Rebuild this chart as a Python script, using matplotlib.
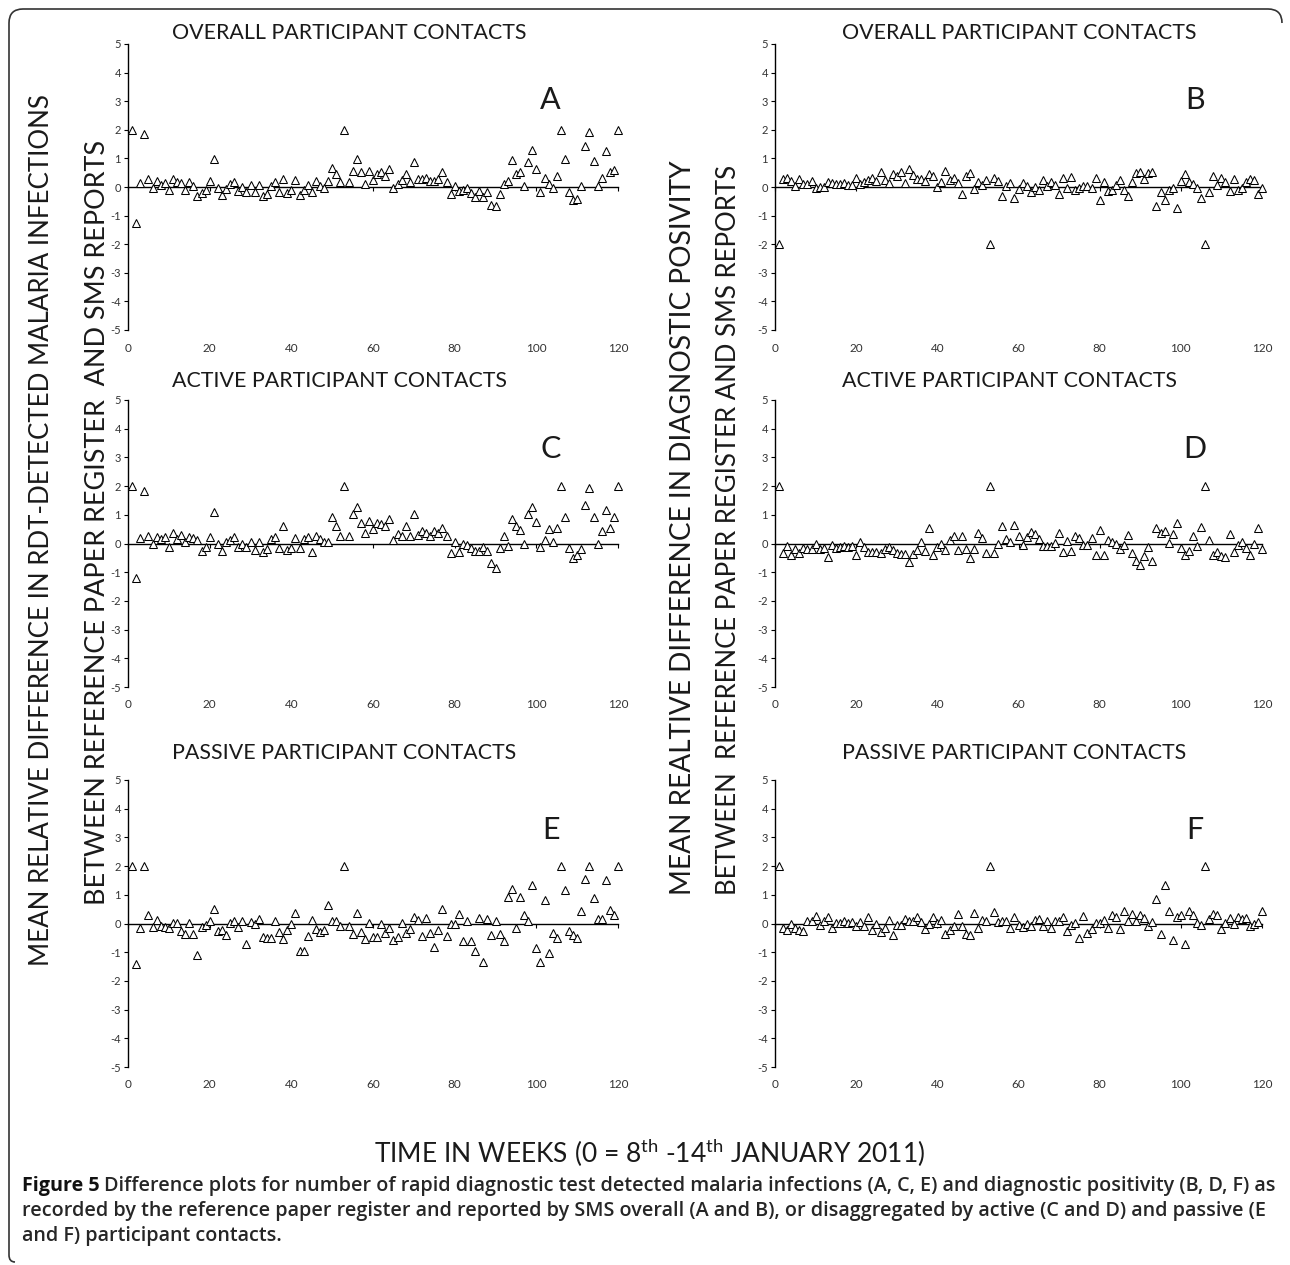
import matplotlib
matplotlib.use("Agg")
import matplotlib.pyplot as plt
from matplotlib.path import Path
from matplotlib.patches import PathPatch

plt.rcParams['font.family'] = ['Lato', 'DejaVu Sans']
plt.rcParams['mathtext.fontset'] = 'custom'
plt.rcParams['mathtext.rm'] = 'Lato'

# ---------------- data ----------------
weeks = list(range(1, 121))

infections_overall = [
    2.0, -1.25, 0.15, 1.87, 0.28, -0.05, 0.2, 0.07, 0.14, -0.12,
    0.28, 0.16, 0.14, -0.1, 0.16, 0.02, -0.3, -0.2, -0.12, 0.2,
    0.98, -0.05, -0.28, -0.07, 0.09, 0.19, -0.14, 0.0, -0.16, 0.07,
    -0.16, 0.07, -0.33, -0.26, 0.05, 0.19, -0.16, 0.28, -0.21, -0.12,
    0.26, -0.28, -0.09, 0.07, -0.16, 0.21, 0.05, -0.05, 0.21, 0.65,
    0.47, 0.19, 2.0, 0.16, 0.56, 0.98, 0.51, 0.09, 0.56, 0.26,
    0.44, 0.54, 0.37, 0.63, -0.05, 0.12, 0.23, 0.47, 0.16, 0.89,
    0.28, 0.28, 0.33, 0.21, 0.21, 0.28, 0.51, 0.16, -0.26, 0.05,
    -0.14, -0.09, -0.05, -0.21, -0.35, -0.14, -0.35, -0.19, -0.63, -0.68,
    -0.26, 0.09, 0.21, 0.94, 0.47, 0.54, 0.02, 0.89, 1.31, 0.63,
    -0.16, 0.3, 0.09, -0.02, 0.37, 2.0, 0.98, -0.16, -0.47, -0.42,
    0.02, 1.43, 1.94, 0.91, 0.02, 0.33, 1.26, 0.51, 0.58, 2.0]

positivity_overall = [
    -2.0, 0.28, 0.33, 0.21, 0.05, 0.28, 0.09, 0.12, 0.21, -0.02,
    0.0, 0.0, 0.19, 0.14, 0.12, 0.12, 0.14, 0.07, 0.07, 0.33,
    0.09, 0.16, 0.26, 0.33, 0.21, 0.54, 0.26, 0.14, 0.44, 0.37,
    0.54, 0.14, 0.63, 0.42, 0.28, 0.28, 0.21, 0.47, 0.40, 0.0,
    0.19, 0.56, 0.23, 0.30, 0.14, -0.26, 0.37, 0.49, -0.07, 0.16,
    0.07, 0.26, -2.0, 0.30, 0.21, -0.30, 0.05, 0.14, -0.37, -0.07,
    0.14, 0.05, -0.16, 0.0, -0.12, 0.23, 0.02, 0.19, 0.07, -0.23,
    0.30, -0.02, 0.35, -0.12, -0.02, 0.02, 0.02, -0.05, 0.30, -0.44,
    0.19, -0.14, -0.09, 0.07, 0.23, -0.09, -0.30, 0.16, 0.49, 0.54,
    0.28, 0.49, 0.54, -0.65, -0.16, -0.44, -0.09, -0.02, -0.75, 0.21,
    0.44, 0.16, 0.09, -0.02, -0.37, -2.0, -0.19, 0.37, 0.07, 0.33,
    0.19, -0.14, 0.28, -0.09, -0.05, 0.16, 0.28, 0.23, -0.26, -0.02]

infections_active = [
    2.0, -1.19, 0.2, 1.82, 0.25, -0.01, 0.22, 0.15, 0.22, -0.11,
    0.36, 0.15, 0.29, 0.04, 0.22, 0.18, 0.11, -0.25, -0.13, 0.22,
    1.09, -0.01, -0.27, 0.04, 0.11, 0.22, -0.13, -0.01, -0.11, 0.06,
    -0.22, 0.06, -0.29, -0.18, 0.15, 0.22, -0.15, 0.62, -0.22, -0.15,
    0.2, -0.15, 0.15, 0.22, -0.29, 0.25, 0.15, 0.04, 0.06, 0.91,
    0.6, 0.27, 2.0, 0.25, 1.02, 1.28, 0.72, 0.36, 0.79, 0.51,
    0.72, 0.69, 0.6, 0.86, 0.13, 0.34, 0.27, 0.62, 0.25, 1.02,
    0.29, 0.44, 0.36, 0.27, 0.44, 0.36, 0.55, 0.25, -0.32, 0.04,
    -0.29, -0.01, -0.06, -0.15, -0.27, -0.25, -0.11, -0.25, -0.67, -0.86,
    -0.15, 0.27, -0.08, 0.86, 0.6, 0.48, -0.01, 1.02, 1.28, 0.74,
    -0.11, 0.11, 0.51, 0.06, 0.55, 2.0, 0.91, -0.15, -0.51, -0.41,
    -0.18, 1.35, 1.94, 0.93, -0.01, 0.44, 1.16, 0.55, 0.91, 2.0]

positivity_active = [
    2.0, -0.34, -0.08, -0.39, -0.2, -0.34, -0.15, -0.18, -0.18, -0.01,
    -0.18, -0.15, -0.46, -0.06, -0.15, -0.13, -0.08, -0.11, -0.08, -0.41,
    0.06, -0.13, -0.29, -0.29, -0.29, -0.32, -0.2, -0.13, -0.22, -0.32,
    -0.36, -0.36, -0.65, -0.36, -0.22, 0.04, -0.25, 0.53, -0.41, -0.11,
    -0.01, -0.22, 0.11, 0.27, -0.22, 0.27, -0.2, -0.51, -0.18, 0.36,
    0.2, -0.32, 2.0, -0.34, -0.01, 0.6, 0.15, 0.04, 0.65, 0.27,
    -0.04, 0.22, 0.39, 0.34, 0.15, -0.08, -0.08, -0.08, 0.01, 0.36,
    -0.29, 0.08, -0.25, 0.27, 0.18, -0.04, -0.04, 0.18, -0.39, 0.46,
    -0.41, 0.11, 0.04, -0.01, -0.2, -0.04, 0.29, -0.34, -0.62, -0.76,
    -0.44, -0.13, -0.6, 0.53, 0.36, 0.44, 0.01, 0.34, 0.72, -0.15,
    -0.41, -0.25, 0.27, -0.08, 0.58, 2.0, 0.11, -0.41, -0.29, -0.44,
    -0.48, 0.34, -0.29, -0.04, 0.06, -0.15, -0.39, -0.01, 0.55, -0.18]

infections_passive = [
    2.0, -1.41, -0.17, 2.0, 0.31, -0.13, 0.13, -0.1, -0.13, -0.15,
    0.01, 0.01, -0.27, -0.38, 0.01, -0.36, -1.1, -0.13, -0.06, 0.1,
    0.5, -0.27, -0.22, -0.41, 0.01, 0.1, -0.13, 0.1, -0.73, 0.06,
    -0.01, 0.15, -0.48, -0.52, -0.5, 0.08, -0.29, -0.55, -0.24, -0.01,
    0.38, -0.97, -0.97, -0.43, 0.13, -0.2, -0.31, -0.22, 0.66, 0.1,
    0.08, -0.08, 2.0, -0.1, -0.36, 0.36, -0.31, -0.55, 0.03, -0.48,
    -0.48, -0.01, -0.34, -0.15, -0.57, -0.48, 0.01, -0.34, -0.2, 0.22,
    0.13, -0.45, 0.2, -0.34, -0.83, -0.22, 0.5, -0.43, -0.01, -0.01,
    0.34, -0.62, 0.1, -0.62, -0.97, 0.2, -1.34, 0.17, -0.41, 0.08,
    -0.38, -0.62, 0.92, 1.2, -0.15, 0.92, 0.31, 0.1, 1.34, -0.85,
    -1.34, 0.83, -1.03, -0.34, -0.5, 2.0, 1.17, -0.27, -0.41, -0.52,
    0.45, 1.55, 2.0, 0.9, 0.15, 0.15, 1.5, 0.48, 0.31, 2.0]

positivity_passive = [
    2.0, -0.15, -0.24, -0.03, -0.17, -0.24, -0.27, 0.08, 0.08, 0.27,
    -0.06, 0.08, 0.24, -0.15, 0.03, 0.01, 0.08, 0.01, 0.06, -0.1,
    0.06, -0.1, 0.22, -0.22, -0.03, -0.31, -0.17, 0.13, -0.41, -0.06,
    -0.06, 0.17, 0.1, 0.1, 0.22, 0.06, -0.2, -0.03, 0.22, 0.03,
    0.13, -0.38, -0.24, -0.08, 0.34, -0.1, -0.38, -0.41, 0.36, -0.15,
    0.13, 0.08, 2.0, 0.41, 0.06, 0.1, 0.1, -0.17, 0.24, -0.06,
    -0.13, -0.03, -0.1, 0.13, 0.15, -0.1, 0.1, -0.17, 0.1, 0.1,
    0.22, -0.27, -0.06, 0.03, -0.5, 0.27, -0.34, -0.2, 0.03, 0.03,
    0.13, -0.17, 0.29, 0.24, -0.2, 0.45, 0.1, 0.34, 0.1, 0.29,
    0.2, -0.1, 0.06, 0.87, -0.36, 1.34, 0.45, -0.57, 0.22, 0.31,
    -0.71, 0.45, 0.29, 0.03, -0.06, 2.0, 0.15, 0.34, 0.29, -0.2,
    0.03, 0.2, -0.01, 0.24, 0.15, 0.2, -0.1, -0.01, 0.06, 0.45]

panel_titles = ["OVERALL PARTICIPANT CONTACTS", "OVERALL PARTICIPANT CONTACTS",
                "ACTIVE PARTICIPANT CONTACTS", "ACTIVE PARTICIPANT CONTACTS",
                "PASSIVE PARTICIPANT CONTACTS", "PASSIVE PARTICIPANT CONTACTS"]
panel_letters = ["A", "B", "C", "D", "E", "F"]
panel_series = [infections_overall, positivity_overall,
                infections_active, positivity_active,
                infections_passive, positivity_passive]
x_ticks = [0, 20, 40, 60, 80, 100, 120]
y_ticks = [-5, -4, -3, -2, -1, 0, 1, 2, 3, 4, 5]

ylabel_left = ["MEAN RELATIVE DIFFERENCE IN RDT-DETECTED MALARIA INFECTIONS",
               "BETWEEN REFERENCE PAPER REGISTER  AND SMS REPORTS"]
ylabel_right = ["MEAN REALTIVE DIFFERENCE IN DIAGNOSTIC POSIVITY",
                "BETWEEN  REFERENCE PAPER REGISTER AND SMS REPORTS"]
xlabel = r"TIME IN WEEKS (0 = 8$^{\mathrm{th}}$ -14$^{\mathrm{th}}$ JANUARY 2011)"
caption_bold = "Figure 5"
caption_lines = [
    "Difference plots for number of rapid diagnostic test detected malaria infections (A, C, E) and diagnostic positivity (B, D, F) as",
    "recorded by the reference paper register and reported by SMS overall (A and B), or disaggregated by active (C and D) and passive (E",
    "and F) participant contacts."]

# ---------------- layout ----------------
W, H = 1290, 1265
fig = plt.figure(figsize=(W / 100, H / 100), dpi=100)
fig.patch.set_facecolor('white')


def fx(px):
    return px / W


def fy(py):
    return 1 - py / H


renderer = fig.canvas.get_renderer()


def fit(t, target, vertical=False):
    bb = t.get_window_extent(renderer)
    cur = bb.height if vertical else bb.width
    t.set_fontsize(t.get_fontsize() * target / cur)


cols = [(128, 618), (775, 1262)]
rows = [(44, 330), (400, 687), (780, 1067)]
title_y = [33, 381, 753]
title_x = [172, 842]
letter_y = [3.05, 3.3, 3.25]

tick_color = '#333333'
title_texts = []
for i, vals in enumerate(panel_series):
    r, c = divmod(i, 2)
    x0, x1 = cols[c]
    y0, y1 = rows[r]
    ax = fig.add_axes([fx(x0), fy(y1), (x1 - x0) / W, (y1 - y0) / H])
    ax.set_xlim(0, 120)
    ax.set_ylim(-5, 5)
    ax.plot(weeks, vals, linestyle='none', marker='^', ms=6.3,
            mfc='white', mec='black', mew=0.75, clip_on=False, zorder=3)
    for s in ['top', 'right']:
        ax.spines[s].set_visible(False)
    ax.spines['bottom'].set_position(('data', 0))
    ax.spines['bottom'].set_linewidth(1.0)
    ax.spines['left'].set_linewidth(1.0)
    ax.set_xticks(x_ticks)
    ax.set_yticks(y_ticks)
    ax.set_yticklabels([str(v) for v in y_ticks])
    ax.tick_params(axis='x', length=3, width=0.8, direction='out',
                   pad=109, labelsize=8.5, labelcolor=tick_color)
    ax.tick_params(axis='y', length=3, width=0.8, direction='out',
                   pad=2, labelsize=8, labelcolor=tick_color)
    ax.text(103.5, letter_y[r], panel_letters[i], ha='center', va='center',
            fontsize=22, color='#1a1a1a')
    t = fig.text(fx(title_x[c]), fy(title_y[r]), panel_titles[i],
                 ha='left', va='center', fontsize=15, color='#1a1a1a')
    title_texts.append(t)

fit(title_texts[0], 354)
for t in title_texts[1:]:
    t.set_fontsize(title_texts[0].get_fontsize())

# y labels
yl = [
    (42, 530, ylabel_left[0], 870),
    (98, 522, ylabel_left[1], 765),
    (683, 528, ylabel_right[0], 735),
    (728, 530, ylabel_right[1], 730),
]
for xp, yp, txt, length in yl:
    t = fig.text(fx(xp), fy(yp), txt, rotation=90, ha='center', va='center',
                 fontsize=20, color='#1a1a1a')
    fit(t, length, vertical=True)

# x label
t = fig.text(fx(650), fy(1153), xlabel, ha='center', va='center',
             fontsize=18, color='#1a1a1a')
fit(t, 552)

# caption
cap_font = ['Open Sans', 'DejaVu Sans']
line_y = [1186, 1211, 1236]
cap_size = 11.0
fb = fig.text(fx(22), fy(line_y[0]), caption_bold, ha='left', va='center',
              fontsize=cap_size, family=cap_font, weight='bold', color='#111111')
l1 = fig.text(fx(22), fy(line_y[0]), caption_lines[0],
              ha='left', va='center', fontsize=cap_size, family=cap_font,
              weight='semibold', color='#262626')
w_total = (fb.get_window_extent(renderer).width
           + cap_size * 0.3 + l1.get_window_extent(renderer).width)
cap_size = cap_size * 1248 / w_total
fb.set_fontsize(cap_size)
l1.set_fontsize(cap_size)
bb = fb.get_window_extent(renderer)
l1.set_x(fx(22) + (bb.width + cap_size * 0.3) / W)
l2 = fig.text(fx(22), fy(line_y[1]), caption_lines[1], ha='left', va='center',
              fontsize=cap_size, family=cap_font, weight='semibold', color='#262626')
fig.text(fx(22), fy(line_y[2]), caption_lines[2], ha='left', va='center',
         fontsize=cap_size, family=cap_font, weight='semibold', color='#262626')

# frame
verts = [(15, 1262), (9, 1262), (9, 1255), (9, 23), (9, 9), (23, 9),
         (1268, 9), (1282, 9), (1282, 23)]
codes = [Path.MOVETO, Path.CURVE3, Path.CURVE3, Path.LINETO, Path.CURVE3,
         Path.CURVE3, Path.LINETO, Path.CURVE3, Path.CURVE3]
path = Path([(fx(a), fy(b)) for a, b in verts], codes)
fig.add_artist(PathPatch(path, transform=fig.transFigure, facecolor='none',
                         edgecolor='#333333', lw=1.2))

fig.savefig('out.png', dpi=100, facecolor='white')
